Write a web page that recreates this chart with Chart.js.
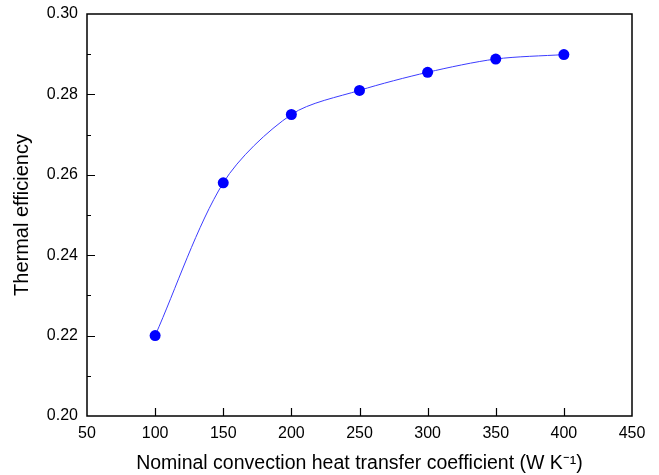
<!DOCTYPE html>
<html>
<head>
<meta charset="utf-8">
<script src="https://cdn.jsdelivr.net/npm/chart.js@4.4.1/dist/chart.umd.min.js"></script>
<style>
  html, body { margin: 0; padding: 0; background: #fff; }
  #wrap { width: 659px; height: 475px; }
</style>
</head>
<body>
<div id="wrap"><canvas id="chart" width="659" height="475"></canvas></div>
<script>
// valores
const coeficientes = [100, 150, 200, 250, 300, 350, 400];
const eficiencia = [0.220, 0.258, 0.275, 0.281, 0.2855, 0.2888, 0.2899];
const xTicks = [50, 100, 150, 200, 250, 300, 350, 400, 450];
const yTicks = [0.20, 0.22, 0.24, 0.26, 0.28, 0.30];
const yMinor = [0.21, 0.23, 0.25, 0.27, 0.29];

// moldura e ticks para dentro
const moldura = {
  id: "moldura",
  afterDraw(chart) {
    const { ctx, chartArea: a, scales } = chart;
    ctx.save();
    ctx.strokeStyle = "#000";
    ctx.lineWidth = 1.5;
    ctx.strokeRect(a.left, a.top, a.right - a.left, a.bottom - a.top);
    ctx.lineWidth = 1.2;
    ctx.beginPath();
    xTicks.slice(1, -1).forEach(v => {
      const x = Math.round(scales.x.getPixelForValue(v)) + 0.5;
      ctx.moveTo(x, a.bottom);
      ctx.lineTo(x, a.bottom - 8);
    });
    yTicks.slice(1, -1).forEach(v => {
      const y = Math.round(scales.y.getPixelForValue(v)) + 0.5;
      ctx.moveTo(a.left, y);
      ctx.lineTo(a.left + 8, y);
    });
    yMinor.forEach(v => {
      const y = Math.round(scales.y.getPixelForValue(v)) + 0.5;
      ctx.moveTo(a.left, y);
      ctx.lineTo(a.left + 4, y);
    });
    ctx.stroke();
    ctx.restore();
  }
};

new Chart(document.getElementById("chart"), {
  type: "scatter",
  data: {
    datasets: [{
      data: coeficientes.map((c, i) => ({ x: c, y: eficiencia[i] })),
      showLine: true,
      borderColor: "#3c3cff",
      borderWidth: 1,
      tension: 0.3,
      pointRadius: 5.5,
      pointBackgroundColor: "#0000ff",
      pointBorderColor: "#0000ff",
      pointBorderWidth: 0
    }]
  },
  options: {
    responsive: false,
    animation: false,
    layout: { padding: { left: 0, top: 14, right: 27, bottom: 0 } },
    plugins: { legend: { display: false }, tooltip: { enabled: false } },
    scales: {
      x: {
        type: "linear",
        min: 50,
        max: 450,
        afterBuildTicks: s => { s.ticks = xTicks.map(v => ({ value: v })); },
        afterFit: s => { s.height = 59; s.paddingLeft = 0; s.paddingRight = 0; },
        grid: { display: false, drawTicks: false },
        border: { display: false },
        ticks: {
          color: "#000",
          padding: 8,
          font: { family: "Liberation Sans", size: 16 },
          maxRotation: 0
        },
        title: {
          display: true,
          text: "Nominal convection heat transfer coefficient (W K\u207B\u00B9)",
          color: "#000",
          font: { family: "Liberation Sans", size: 19.5 },
          padding: { top: 5, bottom: 0 }
        }
      },
      y: {
        min: 0.20,
        max: 0.30,
        afterBuildTicks: s => { s.ticks = yTicks.map(v => ({ value: v })); },
        afterFit: s => { s.width = 87; s.paddingTop = 0; s.paddingBottom = 0; },
        grid: { display: false, drawTicks: false },
        border: { display: false },
        ticks: {
          color: "#000",
          padding: 9,
          font: { family: "Liberation Sans", size: 16 },
          callback: v => v.toFixed(2)
        },
        title: {
          display: true,
          text: "Thermal efficiency",
          color: "#000",
          font: { family: "Liberation Sans", size: 20 },
          padding: { top: 10, bottom: 4 }
        }
      }
    }
  },
  plugins: [moldura]
});
</script>
</body>
</html>
